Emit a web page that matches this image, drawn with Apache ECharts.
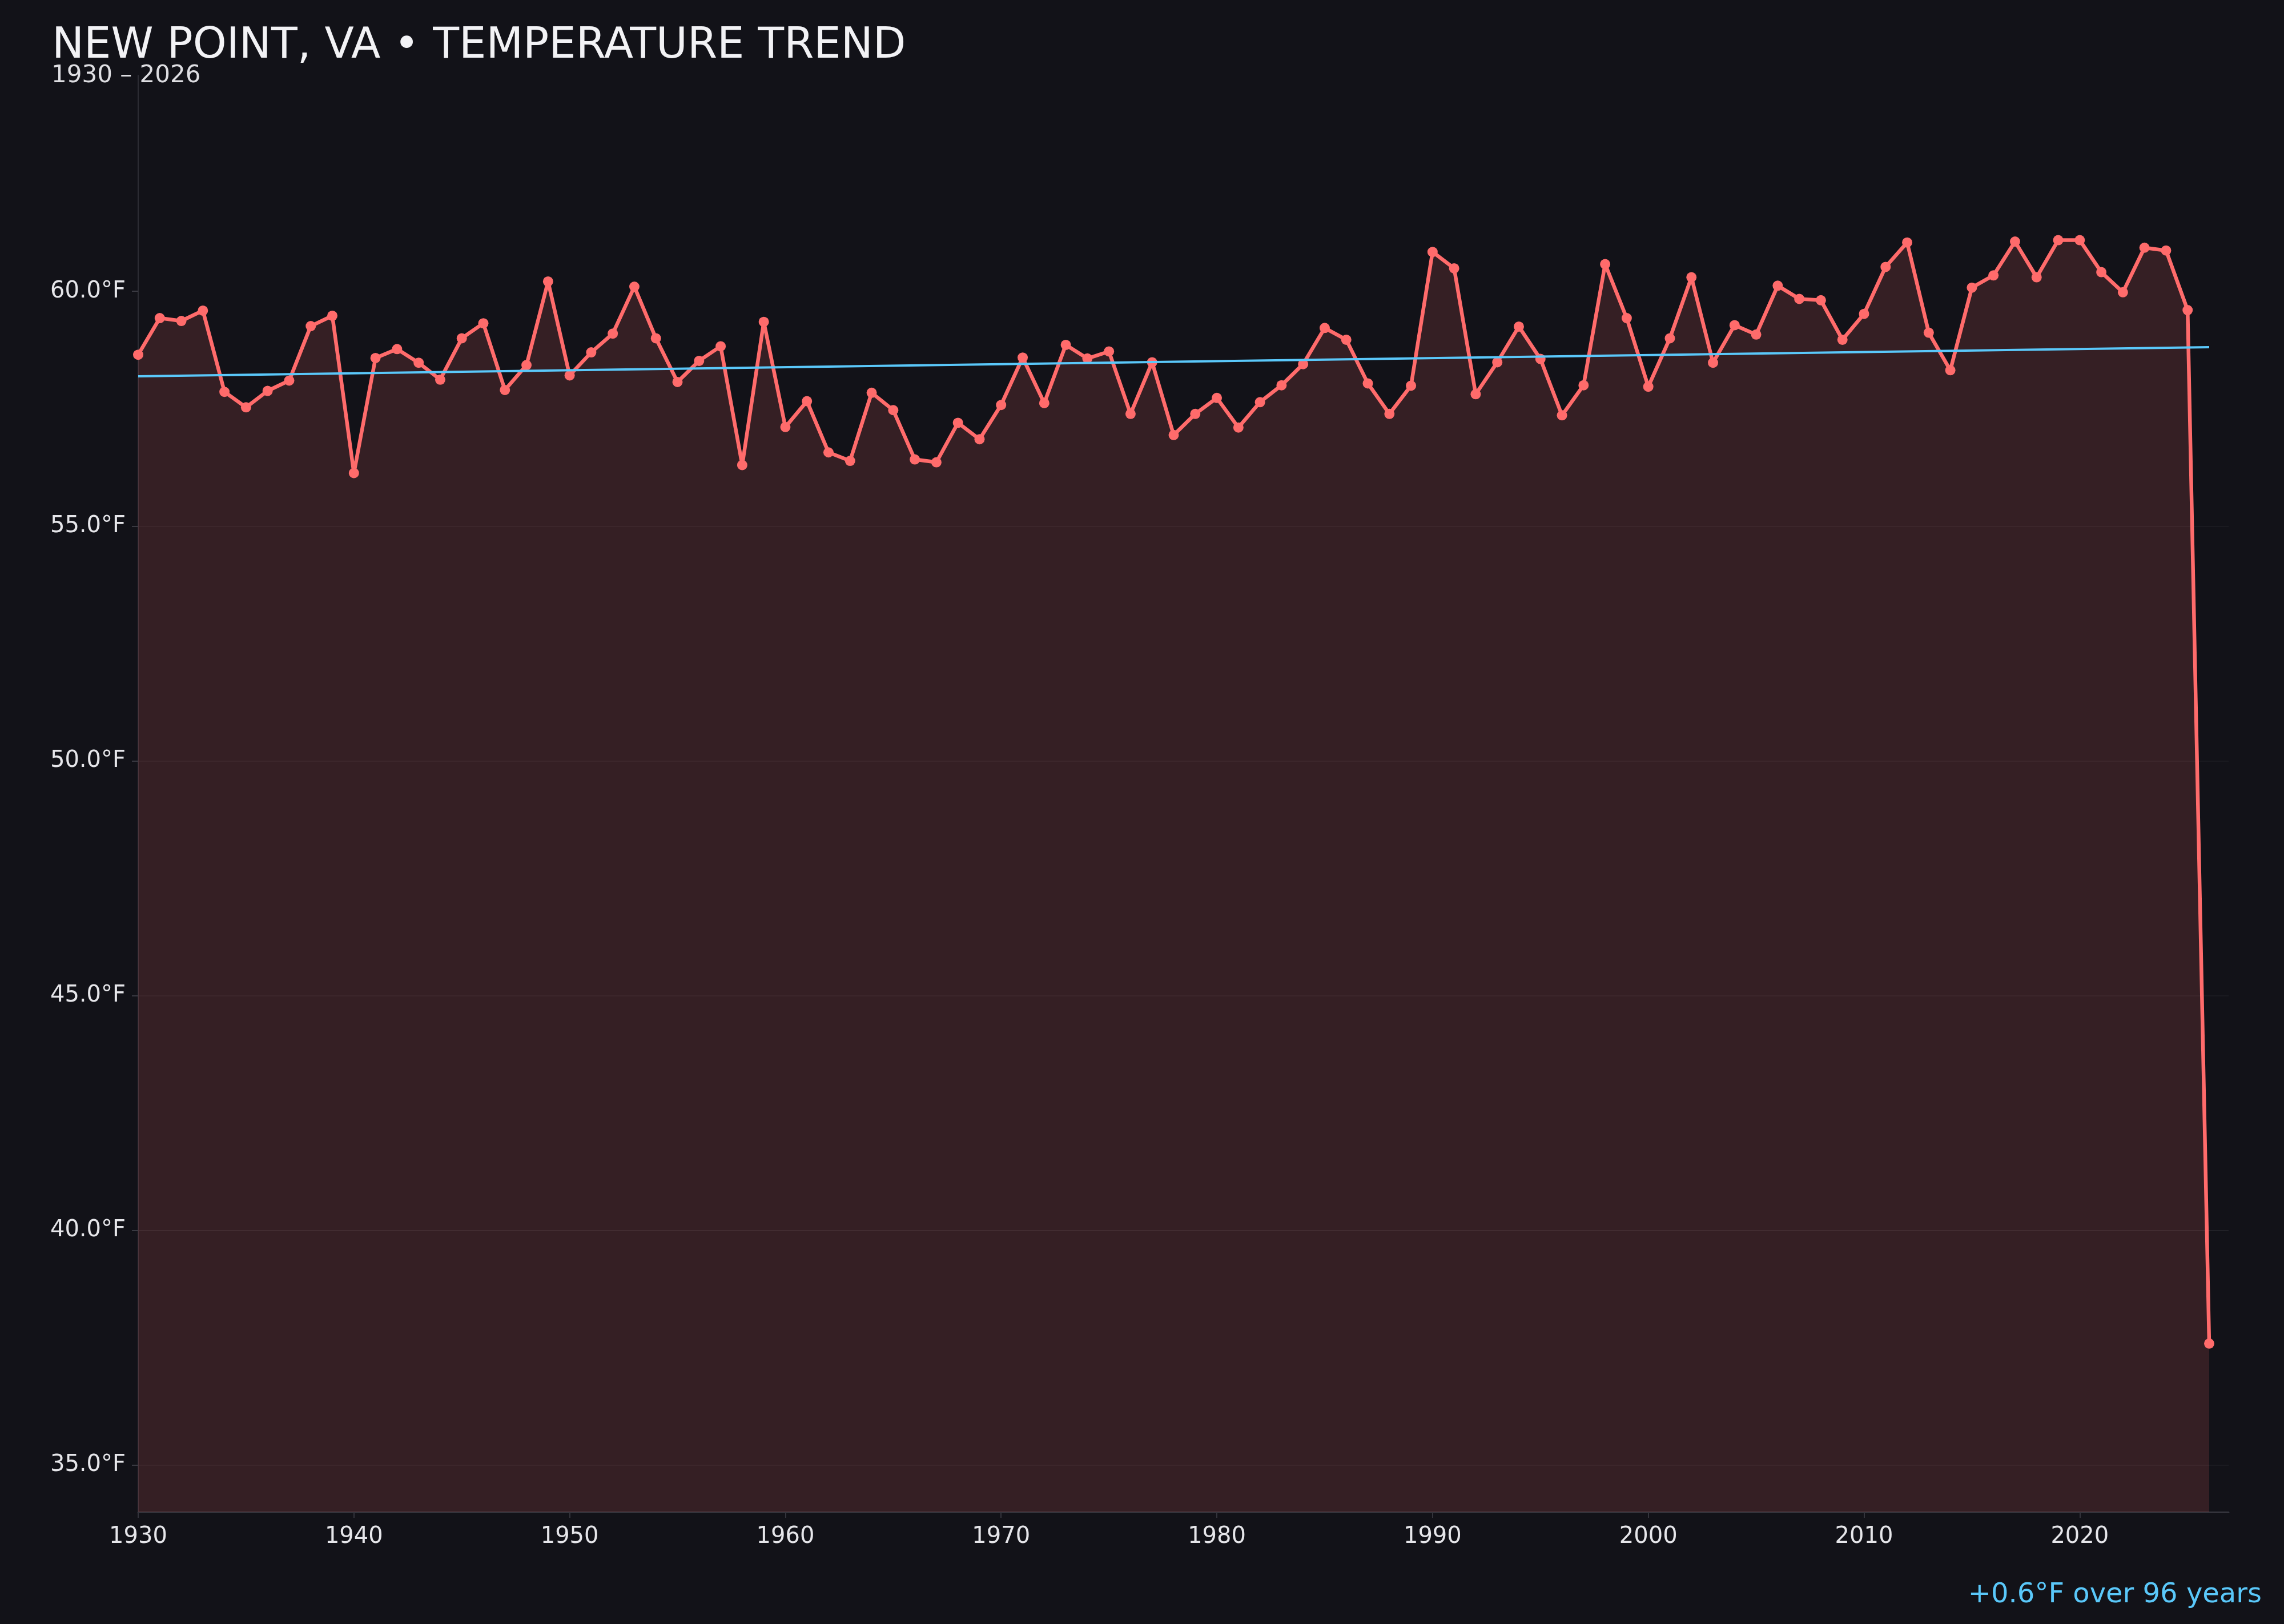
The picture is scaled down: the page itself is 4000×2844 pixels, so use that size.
<!DOCTYPE html>
<html lang="en">
<head>
<meta charset="UTF-8">
<title>New Point, VA temperature trend</title>
<script src="https://cdn.jsdelivr.net/npm/echarts/dist/echarts.min.js"></script>
<style>
html,body{margin:0;padding:0;background:#121218;}
#chart{width:4000px;height:2844px;}
</style>
</head>
<body>
<div id="chart"></div>
<script>
// annual mean temperature
var years = [
  1930,1931,1932,1933,1934,1935,1936,1937,1938,1939,
  1940,1941,1942,1943,1944,1945,1946,1947,1948,1949,
  1950,1951,1952,1953,1954,1955,1956,1957,1958,1959,
  1960,1961,1962,1963,1964,1965,1966,1967,1968,1969,
  1970,1971,1972,1973,1974,1975,1976,1977,1978,1979,
  1980,1981,1982,1983,1984,1985,1986,1987,1988,1989,
  1990,1991,1992,1993,1994,1995,1996,1997,1998,1999,
  2000,2001,2002,2003,2004,2005,2006,2007,2008,2009,
  2010,2011,2012,2013,2014,2015,2016,2017,2018,2019,
  2020,2021,2022,2023,2024,2025,2026
];
var temps = [
  58.65,59.43,59.37,59.59,57.86,57.53,57.88,58.10,59.26,59.48,
  56.13,58.58,58.77,58.48,58.12,59.00,59.32,57.90,58.43,60.21,
  58.21,58.70,59.10,60.10,59.00,58.07,58.52,58.83,56.30,59.35,
  57.11,57.66,56.57,56.39,57.84,57.47,56.42,56.36,57.20,56.85,
  57.58,58.59,57.62,58.86,58.57,58.72,57.39,58.49,56.94,57.39,
  57.73,57.10,57.64,58.00,58.45,59.22,58.97,58.04,57.39,57.99,
  60.84,60.49,57.81,58.49,59.25,58.56,57.36,58.00,60.58,59.43,
  57.97,59.00,60.30,58.48,59.28,59.08,60.12,59.84,59.81,58.97,
  59.52,60.52,61.04,59.12,58.32,60.08,60.34,61.06,60.30,61.09,
  61.09,60.41,59.98,60.93,60.87,59.60,37.59
];
// linear trend end points
var trendYears = [1930, 2026];
var trendTemps = [58.19, 58.81];

var xTickValues = [1930, 1940, 1950, 1960, 1970, 1980, 1990, 2000, 2010, 2020];
var yTickValues = [35, 40, 45, 50, 55, 60];

var chart = echarts.init(document.getElementById('chart'));

var points = years.map(function (y, i) { return [y, temps[i]]; });
var trend = trendYears.map(function (y, i) { return [y, trendTemps[i]]; });

var font = 'DejaVu Sans';
var gridMinor = 'rgba(255,255,255,0.035)';
var gridMajor = 'rgba(255,255,255,0.065)';

var option = {
  backgroundColor: '#121218',
  animation: false,
  title: [
    {
      text: 'NEW POINT, VA • TEMPERATURE TREND',
      left: 91, top: 44, padding: 0,
      textStyle: { color: '#f2f2f5', fontSize: 75, fontWeight: 'normal', fontFamily: font }
    },
    {
      text: '1930 – 2026',
      left: 90, top: 112, padding: 0,
      textStyle: { color: '#dedee2', fontSize: 42, fontWeight: 'normal', fontFamily: font }
    },
    {
      text: '+0.6°F over 96 years',
      right: 39, top: 2770, padding: 0,
      textStyle: { color: '#5ac8fa', fontSize: 48, fontWeight: 'normal', fontFamily: font }
    }
  ],
  grid: { left: 242, right: 97, top: 132, bottom: 196 },
  xAxis: {
    type: 'value',
    min: 1930,
    max: 2026.9,
    axisLine: { show: true, lineStyle: { color: '#34343c', width: 3 } },
    axisTick: { show: true, length: 10, lineStyle: { color: '#34343c', width: 2 }, customValues: xTickValues },
    axisLabel: {
      customValues: xTickValues,
      color: '#e6e6ea', fontSize: 40, fontFamily: font, margin: 24,
      formatter: function (v) { return String(v); }
    },
    splitLine: { show: false }
  },
  yAxis: {
    type: 'value',
    min: 34,
    max: 64.6,
    interval: 1,
    axisLine: { show: true, lineStyle: { color: '#2c2c34', width: 2 } },
    axisTick: { show: true, length: 11, lineStyle: { color: '#3a3a42', width: 2 }, customValues: yTickValues },
    axisLabel: {
      customValues: yTickValues,
      color: '#e6e6ea', fontSize: 40, fontFamily: font, margin: 22,
      formatter: function (v) { return v.toFixed(1) + '°F'; }
    },
    splitLine: {
      show: true,
      showMaxLine: false,
      lineStyle: { color: [gridMinor, gridMajor, gridMinor, gridMinor, gridMinor], width: 2 }
    }
  },
  series: [
    {
      name: 'Annual mean',
      type: 'line',
      data: points,
      symbol: 'circle',
      symbolSize: 18,
      itemStyle: { color: '#ff6b6b' },
      lineStyle: { color: '#ff6b6b', width: 6.5 },
      areaStyle: { color: '#ff6b6b', opacity: 0.15, origin: 'start' },
      z: 3
    },
    {
      name: 'Trend',
      type: 'line',
      data: trend,
      symbol: 'none',
      lineStyle: { color: '#5ac8fa', width: 4 },
      z: 4
    }
  ]
};

chart.setOption(option);
</script>
</body>
</html>
